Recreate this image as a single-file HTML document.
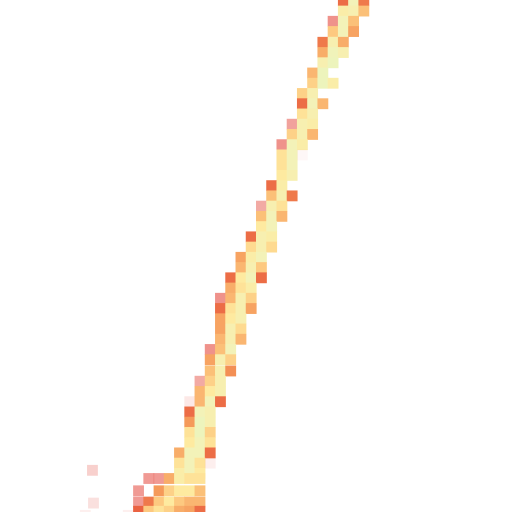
<!DOCTYPE html>
<html><head><meta charset="utf-8"><style>
html,body{margin:0;padding:0;background:#fff;width:512px;height:512px;overflow:hidden}
svg{display:block}
</style></head><body>
<svg id="chart" width="512" height="512" viewBox="0 0 512 512"></svg>
<script>
// grid rows: row index, starting column, cell values (0=red .. 1=pale green; negative = faded red)
const rowIdx = [-0.45,0.55,1.55,2.55,3.6,4.6,5.6,6.6,7.6,8.6,9.6,10.6,11.6,12.6,13.6,14.6,15.6,16.6,17.6,18.6,19.6,20.6,21.6,22.6,23.6,24.6,25.6,26.6,27.6,28.6,29.6,30.6,31.6,32.6,33.6,34.6,35.7,36.7,37.7,38.7,39.7,40.7,41.7,42.7,43.7,44.7,45.7,46.2,47.4,48.5,49.4];
const startCol = [33,33,32,32,31,31,31,30,30,29,29,29,28,28,27,27,27,27,26,26,25,25,25,24,24,23,23,22,22,21,21,21,21,21,20,20,20,19,19,18,18,18,18,18,17,17,17,14,13,13,13];
const cellVals = [
[0.1,0.9,0.15],[0.8,0.85,0.5],[-0.3,0.9,0.5],[0.55,0.9,0.35],[0.15,0.85,0.4],[0.4,0.92,0.85],
[0.85,0.95],[0.45,0.95],[0.6,0.95,0.8],[0.6,0.85],[0.1,0.9,0.45],[0.7,0.85],
[-0.4,0.85,0.8],[0.6,0.85,0.45],[-0.3,0.9,0.8],[0.7,0.9,-0.95],[0.7,0.9],[0.75,0.85],
[0.1,0.8],[0.5,0.85,0.15],[-0.45,0.85,0.7],[0.5,0.9,0.45],[0.75,0.9],[0.1,0.85,0.8],
[0.65,0.85,0.65],[0.35,0.8,0.9],[0.45,0.85,0.55],[0.1,0.75,0.9,0.1],[0.4,0.7,0.8],
[-0.3,0.45,0.85,0.6],[0.1,0.7,0.85,0.35],[0.35,0.75,0.85],[0.35,0.85,0.65],[0.45,0.85,0.45],
[-0.3,0.5,0.9],[0.35,0.85,0.6],[0.5,0.85,0.25],[-0.45,0.6,0.85],[0.45,0.75,0.85],
[-0.85,0.45,0.9,0.1],[0.1,0.9,0.85],[0.3,0.95,0.85],[0.7,0.95,0.6],[0.75,0.9,0.7],
[0.4,0.9,0.9,0.1],[0.7,0.9,0.7,-0.9],[0.8,0.9,0.75],
[-0.35,-0.35,0.4,0.8,0.7,0.7],[-0.35,-1,0.3,0.6,0.75,0.75,0.5],
[-0.35,0.15,0.55,0.75,0.55,0.45,0.45],[0.05,0.55,0.7,0.6,0.4,0.35,0.1]
];
// isolated cells: row, column, value
const soloRow = [45.4,48.6,49.8,49.8];
const soloCol = [8.5,8.6,7.8,12];
const soloVal = [-0.7,-0.8,-0.9,-0.9];

const CELL = 10.24;
const svg = document.getElementById('chart');
const NS = 'http://www.w3.org/2000/svg';
const stops = [[0,[232,87,60]],[0.3,[245,154,90]],[0.55,[253,201,128]],[0.75,[254,234,160]],[0.9,[243,242,184]],[1,[230,245,192]]];
function color(v){
  if(v<0) return {c:'rgb(232,100,90)',o:1+v};
  for(let i=1;i<stops.length;i++){
    if(v<=stops[i][0]){
      const a=stops[i-1],b=stops[i],t=(v-a[0])/(b[0]-a[0]);
      const c=a[1].map((x,k)=>Math.round(x+(b[1][k]-x)*t));
      return {c:`rgb(${c})`,o:1};
    }
  }
  return {c:'rgb(230,245,192)',o:1};
}
function xPos(col){return col*CELL;}
function yPos(row){return row*CELL;}
function addCell(row,col,v){
  const r=document.createElementNS(NS,'rect');
  
  
  const k=color(v);
  r.setAttribute('x',xPos(col));r.setAttribute('y',yPos(row));
  r.setAttribute('width',CELL+0.6);r.setAttribute('height',CELL+0.6);
  r.setAttribute('fill',k.c);r.setAttribute('fill-opacity',k.o);
  svg.appendChild(r);
}
rowIdx.forEach((row,i)=>{
  cellVals[i].forEach((v,j)=>addCell(row,startCol[i]+j,v));
});
soloRow.forEach((row,i)=>addCell(row,soloCol[i],soloVal[i]));
</script>
</body></html>
